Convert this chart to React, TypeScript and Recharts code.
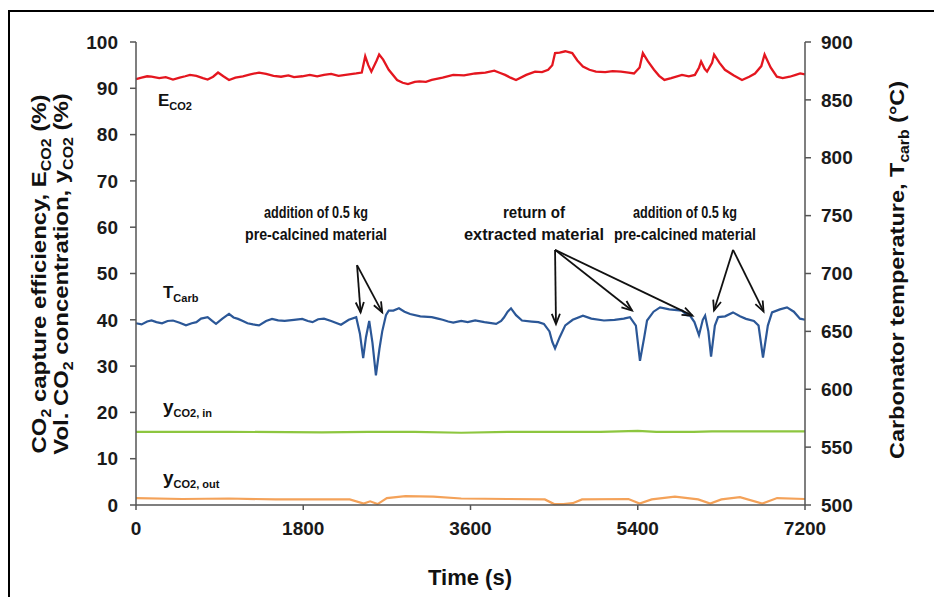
import React from "react";
import { LineChart, Line, XAxis, YAxis, ReferenceLine, ReferenceDot } from "recharts";

const FONT = "'Liberation Sans', Arial, sans-serif";

// tick labels
const timeTicks = [0, 1800, 3600, 5400, 7200];
const leftTicks = [0, 10, 20, 30, 40, 50, 60, 70, 80, 90, 100];
const rightTicks = [500, 550, 600, 650, 700, 750, 800, 850, 900];

// E_CO2 (%), left axis
const ecoTimes = [0, 60, 120, 167, 250, 320, 398, 470, 530, 581, 650, 720, 771, 830, 883, 940, 1001, 1070, 1150, 1230, 1324, 1400, 1480, 1561, 1640, 1700, 1789, 1870, 1950, 2023, 2100, 2180, 2255, 2370, 2430, 2467, 2500, 2533, 2590, 2617, 2660, 2720, 2810, 2870, 2927, 3000, 3050, 3120, 3183, 3300, 3414, 3530, 3650, 3760, 3856, 3920, 3972, 4030, 4090, 4200, 4295, 4370, 4436, 4480, 4510, 4560, 4620, 4695, 4750, 4810, 4880, 4950, 5050, 5130, 5220, 5300, 5360, 5420, 5455, 5510, 5575, 5630, 5687, 5760, 5876, 5950, 6015, 6060, 6082, 6120, 6146, 6200, 6222, 6280, 6338, 6430, 6522, 6600, 6662, 6730, 6765, 6830, 6897, 6960, 7036, 7100, 7148, 7200];
const ecoValues = [92.0, 92.3, 92.6, 92.5, 92.2, 92.4, 91.9, 92.3, 92.6, 92.9, 92.7, 92.2, 91.9, 92.5, 93.4, 92.6, 91.8, 92.3, 92.6, 93.0, 93.4, 93.1, 92.7, 92.5, 92.8, 92.4, 92.6, 92.9, 92.6, 92.9, 93.1, 92.7, 92.9, 93.2, 93.4, 96.9, 95.0, 93.6, 96.0, 97.3, 96.2, 94.0, 91.8, 91.2, 90.9, 91.4, 91.5, 91.4, 91.8, 92.3, 92.9, 92.8, 93.2, 93.4, 93.8, 93.3, 92.9, 92.3, 91.8, 92.9, 93.6, 93.5, 94.0, 95.0, 97.6, 97.7, 98.0, 97.6, 96.0, 94.7, 94.0, 93.6, 93.5, 93.7, 93.6, 93.4, 93.2, 94.5, 97.6, 95.8, 94.0, 92.7, 91.8, 92.2, 92.9, 92.6, 92.9, 94.5, 95.8, 94.2, 93.6, 95.5, 97.3, 95.5, 94.0, 92.8, 91.8, 92.5, 93.2, 94.8, 97.3, 94.5, 92.5, 92.2, 92.5, 92.9, 93.2, 93.0];

// T_carb (deg C), right axis
const tempTimes = [0, 60, 120, 167, 220, 280, 340, 398, 470, 538, 600, 650, 700, 771, 820, 861, 930, 1001, 1050, 1098, 1150, 1200, 1260, 1324, 1400, 1464, 1530, 1600, 1700, 1789, 1850, 1900, 1960, 2023, 2100, 2206, 2290, 2370, 2410, 2445, 2475, 2510, 2545, 2582, 2620, 2650, 2690, 2720, 2770, 2830, 2890, 2950, 3060, 3183, 3250, 3300, 3360, 3414, 3500, 3570, 3650, 3750, 3876, 3930, 3960, 4000, 4036, 4090, 4154, 4260, 4330, 4390, 4450, 4480, 4510, 4560, 4620, 4700, 4810, 4900, 5036, 5150, 5250, 5316, 5380, 5424, 5470, 5500, 5570, 5640, 5740, 5876, 5930, 5962, 6010, 6059, 6100, 6125, 6160, 6189, 6230, 6265, 6340, 6425, 6500, 6565, 6650, 6700, 6748, 6800, 6845, 6930, 7006, 7080, 7146, 7200];
const tempValues = [657, 656, 658.5, 659.4, 658, 657, 659, 659.4, 657.5, 655.2, 657, 658, 661, 662.3, 659, 656.5, 661, 665.1, 662, 660.8, 659, 657, 656, 655.2, 659, 660.8, 659.5, 659, 660, 660.8, 659, 658, 660.5, 661, 659, 655.8, 660, 662.3, 648, 626.8, 645, 659, 640, 612, 635, 650, 664, 667.9, 668, 669.9, 667, 665, 663, 662.3, 661, 660, 658.5, 657.5, 659, 658, 659.4, 658, 656.5, 659, 662, 667, 669.9, 664, 659.4, 658.5, 658, 656.5, 650, 641, 635.3, 645, 655.2, 660, 663.6, 661, 659.4, 660, 661, 662.3, 655, 624.6, 645, 659.4, 667, 670.7, 669, 667.9, 664, 663.6, 658, 646.7, 660, 663.6, 650, 628.2, 655, 662.3, 663, 666.4, 663, 660.8, 659, 655, 627.4, 655, 666.4, 669, 670.7, 667, 661, 660];

// y_CO2,in (%)
const inTimes = [0, 1000, 2000, 2500, 3000, 3500, 4000, 5000, 5400, 5600, 6000, 6200, 7200];
const inValues = [15.8, 15.8, 15.7, 15.8, 15.8, 15.6, 15.8, 15.8, 16.0, 15.8, 15.8, 15.9, 15.9];

// y_CO2,out (%)
const outTimes = [0, 500, 1000, 1500, 2000, 2300, 2450, 2520, 2600, 2700, 2900, 3200, 3500, 4000, 4400, 4500, 4600, 4700, 4800, 5300, 5420, 5550, 5800, 6050, 6180, 6300, 6500, 6740, 6900, 7200];
const outValues = [1.5, 1.3, 1.4, 1.2, 1.2, 1.2, 0.3, 0.8, 0.2, 1.5, 1.9, 1.8, 1.4, 1.3, 1.2, 0.2, 0.2, 0.4, 1.2, 1.3, 0.3, 1.2, 1.8, 1.2, 0.3, 1.2, 1.7, 0.3, 1.5, 1.3];

const zip = (ts: number[], vs: number[]) => ts.map((t, i) => ({ t, v: vs[i] }));
const ecoData = zip(ecoTimes, ecoValues);
const tempData = zip(tempTimes, tempValues);
const inData = zip(inTimes, inValues);
const outData = zip(outTimes, outValues);

// annotation text and arrows (time, left-axis %)
const notes = [
  { t: 1937, v: 62.0, lines: ["addition of 0.5 kg", "pre-calcined material"], widths: [104, 142] },
  { t: 4283, v: 62.0, lines: ["return of", "extracted material"], widths: [62, 140] },
  { t: 5909, v: 62.0, lines: ["addition of 0.5 kg", "pre-calcined material"], widths: [104, 142] },
];
const arrows = [
  { from: [2379, 51.8], to: [2417, 41.6] },
  { from: [2379, 51.8], to: [2650, 41.6] },
  { from: [4510, 55.1], to: [4520, 39.1] },
  { from: [4510, 55.1], to: [5338, 42.0] },
  { from: [4510, 55.1], to: [5989, 40.9] },
  { from: [6426, 55.1], to: [6221, 42.0] },
  { from: [6426, 55.1], to: [6754, 41.8] },
];

const seriesLabels = [
  { t: 237, v: 86.2, main: "E", sub: "CO2" },
  { t: 290, v: 44.7, main: "T", sub: "Carb" },
  { t: 290, v: 19.9, main: "y", sub: "CO2, in" },
  { t: 290, v: 4.5, main: "y", sub: "CO2, out" },
];

const Arrow = (p: any) => {
  const { x1, y1, x2, y2 } = p;
  const a = Math.atan2(y2 - y1, x2 - x1);
  const L = 11;
  const w = 0.38;
  const h1 = `${x2 - L * Math.cos(a - w)},${y2 - L * Math.sin(a - w)}`;
  const h2 = `${x2 - L * Math.cos(a + w)},${y2 - L * Math.sin(a + w)}`;
  return (
    <g>
      <line x1={x1} y1={y1} x2={x2} y2={y2} stroke="#111" strokeWidth={1.8} />
      <polyline points={`${h1} ${x2},${y2} ${h2}`} fill="none" stroke="#111" strokeWidth={1.8} />
    </g>
  );
};

const axisStyle = { stroke: "#555", strokeWidth: 1.5 };
const tickStyle = { fill: "#1a1a1a", fontSize: 19, fontWeight: "bold" as const, fontFamily: FONT };

export default function App() {
  return (
    <div style={{ position: "relative", width: 934, height: 589, fontFamily: FONT }}>
      <div
        style={{
          position: "absolute",
          left: 0,
          top: 2,
          width: 934,
          height: 600,
          borderTop: "2px solid #000",
          borderLeft: "2px solid #000",
          boxSizing: "border-box",
        }}
      />
      <LineChart width={934} height={589} margin={{ top: 34, right: 77, bottom: 62, left: 68 }}>
        <XAxis
          dataKey="t"
          type="number"
          domain={[0, 7200]}
          ticks={timeTicks}
          tick={tickStyle}
          tickSize={5}
          tickMargin={12}
          axisLine={axisStyle}
          tickLine={axisStyle}
          height={30}
          allowDuplicatedCategory={false}
        />
        <YAxis
          yAxisId="left"
          domain={[0, 100]}
          ticks={leftTicks}
          tick={tickStyle}
          tickSize={6}
          tickMargin={12}
          axisLine={axisStyle}
          tickLine={axisStyle}
          width={60}
          interval={0}
        />
        <YAxis
          yAxisId="right"
          orientation="right"
          domain={[500, 900]}
          ticks={rightTicks}
          tick={tickStyle}
          tickSize={6}
          tickMargin={10}
          axisLine={axisStyle}
          tickLine={axisStyle}
          width={60}
          interval={0}
        />
        <Line yAxisId="left" data={inData} dataKey="v" stroke="#8dc63f" strokeWidth={2.2} dot={false} isAnimationActive={false} type="linear" />
        <Line yAxisId="left" data={outData} dataKey="v" stroke="#f4a259" strokeWidth={2.2} dot={false} isAnimationActive={false} type="linear" />
        <Line yAxisId="right" data={tempData} dataKey="v" stroke="#2b5797" strokeWidth={2.2} dot={false} isAnimationActive={false} type="linear" />
        <Line yAxisId="left" data={ecoData} dataKey="v" stroke="#e4161f" strokeWidth={2.3} dot={false} isAnimationActive={false} type="linear" />
        {arrows.map((a, i) => (
          <ReferenceLine
            key={`arr${i}`}
            yAxisId="left"
            segment={[
              { x: a.from[0], y: a.from[1] },
              { x: a.to[0], y: a.to[1] },
            ]}
            shape={Arrow}
          />
        ))}
        {notes.map((n, i) => (
          <ReferenceDot
            key={`note${i}`}
            yAxisId="left"
            x={n.t}
            y={n.v}
            r={0}
            shape={(p: any) => (
              <g>
                {n.lines.map((ln, j) => (
                  <text
                    key={j}
                    x={p.cx}
                    y={p.cy + j * 22}
                    textAnchor="middle"
                    fontFamily={FONT}
                    fontWeight="bold"
                    fontSize={16}
                    fill="#111"
                    textLength={n.widths[j]}
                    lengthAdjust="spacingAndGlyphs"
                  >
                    {ln}
                  </text>
                ))}
              </g>
            )}
          />
        ))}
        {seriesLabels.map((s, i) => (
          <ReferenceDot
            key={`lab${i}`}
            yAxisId="left"
            x={s.t}
            y={s.v}
            r={0}
            shape={(p: any) => (
              <text x={p.cx} y={p.cy} fontFamily={FONT} fontWeight="bold" fontSize={s.main === "y" ? 19 : 17} fill="#111">
                {s.main}
                <tspan fontSize={11} dy={4}>
                  {s.sub}
                </tspan>
              </text>
            )}
          />
        ))}
      </LineChart>
      <svg width={934} height={589} style={{ position: "absolute", left: 0, top: 0, pointerEvents: "none" }}>
        <g fontFamily={FONT} fontWeight="bold" fill="#111">
          <g transform="translate(38,266) rotate(-90) scale(1.14,1)">
            <text x={0} y={0} textAnchor="middle" fontSize={21}>
              CO<tspan fontSize={14} dy={5}>2</tspan>
              <tspan dy={-5}> capture efficiency, E</tspan>
              <tspan fontSize={14} dy={5}>CO2</tspan>
              <tspan dy={-5}> (%)</tspan>
            </text>
          </g>
          <g transform="translate(60,266) rotate(-90) scale(1.14,1)">
            <text x={0} y={0} textAnchor="middle" fontSize={21}>
              Vol. CO<tspan fontSize={14} dy={5}>2</tspan>
              <tspan dy={-5}> concentration, y</tspan>
              <tspan fontSize={14} dy={5}>CO2</tspan>
              <tspan dy={-5}> (%)</tspan>
            </text>
          </g>
          <g transform="translate(896,262) rotate(-90) scale(1.12,1)">
            <text x={0} y={0} textAnchor="middle" fontSize={21}>
              Carbonator temperature, T<tspan fontSize={14} dy={5}>carb</tspan>
              <tspan dy={-5}> (°C)</tspan>
            </text>
          </g>
          <text x={462} y={577} textAnchor="middle" fontSize={22}>
            Time (s)
          </text>
        </g>
      </svg>
    </div>
  );
}
